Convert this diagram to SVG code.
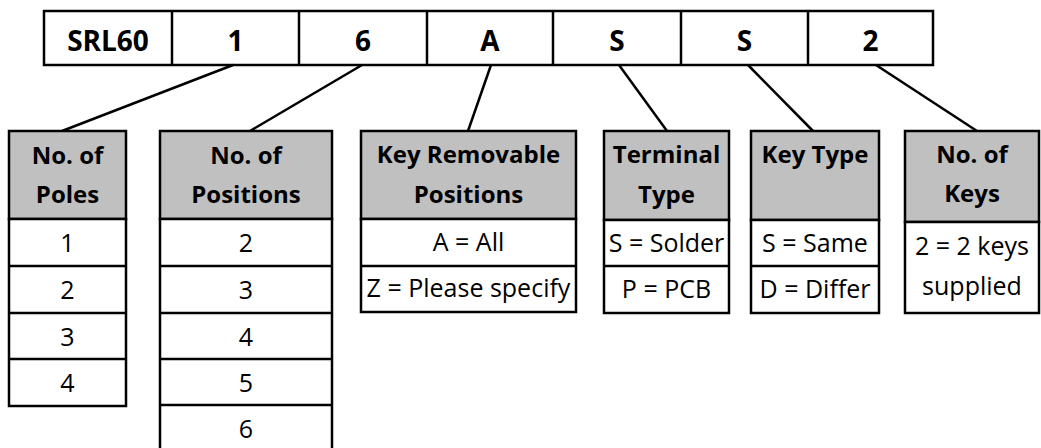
<svg xmlns="http://www.w3.org/2000/svg" width="1041" height="448" viewBox="0 0 1041 448">
<style>
.bx{fill:#fff;stroke:#000;stroke-width:2.5}
.hd{fill:#c0c0c0;stroke:#000;stroke-width:2.5}
.ln{stroke:#000;stroke-width:2.5;fill:none}
.t{font-family:"Open Sans","Liberation Sans",sans-serif;font-size:25px;fill:#000;text-anchor:middle}
.b{font-family:"Open Sans","Liberation Sans",sans-serif;font-size:24px;font-weight:bold;fill:#000;text-anchor:middle}
.tb{font-family:"Open Sans","Liberation Sans",sans-serif;font-size:28px;font-weight:bold;fill:#000;text-anchor:middle}
</style>
<rect width="1041" height="448" fill="#fff"/>
<g id="code">
<rect class="bx" x="44" y="11" width="889" height="54"/>
<line class="ln" x1="172" y1="11" x2="172" y2="65"/>
<line class="ln" x1="299" y1="11" x2="299" y2="65"/>
<line class="ln" x1="427" y1="11" x2="427" y2="65"/>
<line class="ln" x1="553" y1="11" x2="553" y2="65"/>
<line class="ln" x1="681" y1="11" x2="681" y2="65"/>
<line class="ln" x1="808" y1="11" x2="808" y2="65"/>
<text class="tb" x="108" y="51">SRL60</text>
<text class="tb" x="235.5" y="51">1</text>
<text class="tb" x="363" y="51">6</text>
<text class="tb" x="490" y="51">A</text>
<text class="tb" x="617" y="51">S</text>
<text class="tb" x="744.5" y="51">S</text>
<text class="tb" x="870.5" y="51">2</text>
</g>
<g id="connectors">
<line class="ln" x1="233" y1="65" x2="62" y2="131"/>
<line class="ln" x1="362" y1="65" x2="250" y2="131"/>
<line class="ln" x1="491" y1="65" x2="468" y2="131"/>
<line class="ln" x1="619" y1="65" x2="667" y2="131"/>
<line class="ln" x1="748" y1="65" x2="813" y2="131"/>
<line class="ln" x1="876" y1="65" x2="977" y2="131"/>
</g>
<g id="poles">
<rect class="hd" x="9" y="131" width="117" height="88"/>
<rect class="bx" x="9" y="219" width="117" height="187"/>
<line class="ln" x1="9" y1="266" x2="126" y2="266"/>
<line class="ln" x1="9" y1="313" x2="126" y2="313"/>
<line class="ln" x1="9" y1="359" x2="126" y2="359"/>
<text class="b" x="67.5" y="164">No. of</text>
<text class="b" x="67.5" y="203">Poles</text>
<text class="t" x="67.5" y="252">1</text>
<text class="t" x="67.5" y="299">2</text>
<text class="t" x="67.5" y="346">3</text>
<text class="t" x="67.5" y="392">4</text>
</g>
<g id="positions">
<rect class="hd" x="160" y="131" width="172" height="88"/>
<rect class="bx" x="160" y="219" width="172" height="234"/>
<line class="ln" x1="160" y1="266" x2="332" y2="266"/>
<line class="ln" x1="160" y1="313" x2="332" y2="313"/>
<line class="ln" x1="160" y1="359" x2="332" y2="359"/>
<line class="ln" x1="160" y1="405" x2="332" y2="405"/>
<text class="b" x="246" y="164">No. of</text>
<text class="b" x="246" y="203">Positions</text>
<text class="t" x="246" y="252">2</text>
<text class="t" x="246" y="299">3</text>
<text class="t" x="246" y="346">4</text>
<text class="t" x="246" y="392">5</text>
<text class="t" x="246" y="438">6</text>
</g>
<g id="keyremovable">
<rect class="hd" x="361" y="131" width="215" height="88"/>
<rect class="bx" x="361" y="219" width="215" height="93"/>
<line class="ln" x1="361" y1="266" x2="576" y2="266"/>
<text class="b" x="468.5" y="163">Key Removable</text>
<text class="b" x="468.5" y="203">Positions</text>
<text class="t" x="468.5" y="251">A = All</text>
<text class="t" x="468.5" y="297">Z = Please specify</text>
</g>
<g id="terminal">
<rect class="hd" x="604" y="131" width="125" height="89"/>
<rect class="bx" x="604" y="220" width="125" height="93"/>
<line class="ln" x1="604" y1="266" x2="729" y2="266"/>
<text class="b" x="666.5" y="163">Terminal</text>
<text class="b" x="666.5" y="203">Type</text>
<text class="t" x="666.5" y="252">S = Solder</text>
<text class="t" x="666.5" y="298">P = PCB</text>
</g>
<g id="keytype">
<rect class="hd" x="751" y="131" width="128" height="89"/>
<rect class="bx" x="751" y="220" width="128" height="93"/>
<line class="ln" x1="751" y1="266" x2="879" y2="266"/>
<text class="b" x="815" y="163">Key Type</text>
<text class="t" x="815" y="252">S = Same</text>
<text class="t" x="815" y="298">D = Differ</text>
</g>
<g id="keys">
<rect class="hd" x="905" y="131" width="134" height="91"/>
<rect class="bx" x="905" y="222" width="134" height="91"/>
<text class="b" x="972" y="163">No. of</text>
<text class="b" x="972" y="202">Keys</text>
<text class="t" x="972" y="255">2 = 2 keys</text>
<text class="t" x="972" y="295">supplied</text>
</g>
</svg>
